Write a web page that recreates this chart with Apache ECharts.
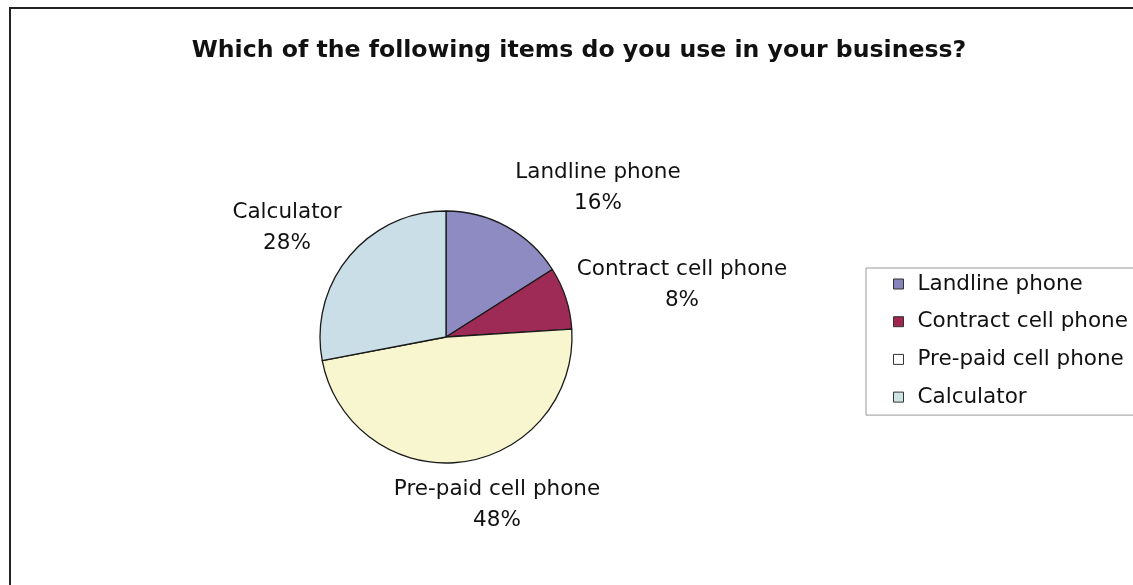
<!DOCTYPE html>
<html>
<head>
<meta charset="utf-8">
<title>Which of the following items do you use in your business?</title>
<script src="https://cdn.jsdelivr.net/npm/echarts@6/dist/echarts.min.js"></script>
<style>
  html, body { margin: 0; padding: 0; background: #fff; }
  #chart { width: 1133px; height: 585px; }
</style>
</head>
<body>
<div id="chart"></div>
<script>
// Survey answers, share of respondents (%)
const categories = ['Landline phone', 'Contract cell phone', 'Pre-paid cell phone', 'Calculator'];
const shares = [16, 8, 48, 28];

const sliceColors = ['#8D8BC1', '#9E2B55', '#F8F6CF', '#C9DEE7'];
const legendSwatches = ['#8583BA', '#A0254F', '#FFFFFF', '#CDE4E4'];

// centre point of each two-line slice label
const labelCenters = [[598, 188], [682, 285], [497, 505], [287, 228]];

const FONT = 'DejaVu Sans';

const chart = echarts.init(document.getElementById('chart'));

chart.setOption({
  animation: false,
  title: {
    text: 'Which of the following items do you use in your business?',
    left: 574,
    top: 34,
    textAlign: 'center',
    textStyle: { fontFamily: FONT, fontWeight: 'bold', fontSize: 23.6, color: '#111' }
  },
  graphic: [{
    type: 'rect',
    shape: { x: 10, y: 8, width: 1200, height: 700 },
    style: { fill: 'none', stroke: '#222', lineWidth: 2 },
    silent: true
  }],
  legend: {
    orient: 'vertical',
    left: 866,
    top: 268,
    padding: [5, 40, 7, 27],
    itemGap: 15.7,
    itemWidth: 10,
    itemHeight: 10,
    icon: 'rect',
    borderColor: '#999',
    borderWidth: 1,
    selectedMode: false,
    itemStyle: { borderColor: '#333', borderWidth: 1 },
    textStyle: { fontFamily: FONT, fontSize: 21.5, color: '#111', lineHeight: 22, padding: [0, 0, 0, 9] },
    data: categories.map((name, i) => ({ name, itemStyle: { color: legendSwatches[i] } }))
  },
  series: [{
    type: 'pie',
    center: [446, 337],
    radius: 126,
    startAngle: 90,
    clockwise: true,
    avoidLabelOverlap: false,
    silent: true,
    itemStyle: { borderColor: '#1a1a1a', borderWidth: 1.3 },
    label: {
      show: true,
      position: 'outside',
      formatter: '{b}\n{c}%',
      fontFamily: FONT,
      fontSize: 21.5,
      lineHeight: 31,
      color: '#111'
    },
    labelLine: { show: false },
    labelLayout: function (params) {
      const p = labelCenters[params.dataIndex];
      return { x: p[0], y: p[1], align: 'center', verticalAlign: 'middle' };
    },
    data: categories.map((name, i) => ({
      name,
      value: shares[i],
      itemStyle: { color: sliceColors[i] }
    }))
  }]
});
</script>
</body>
</html>
